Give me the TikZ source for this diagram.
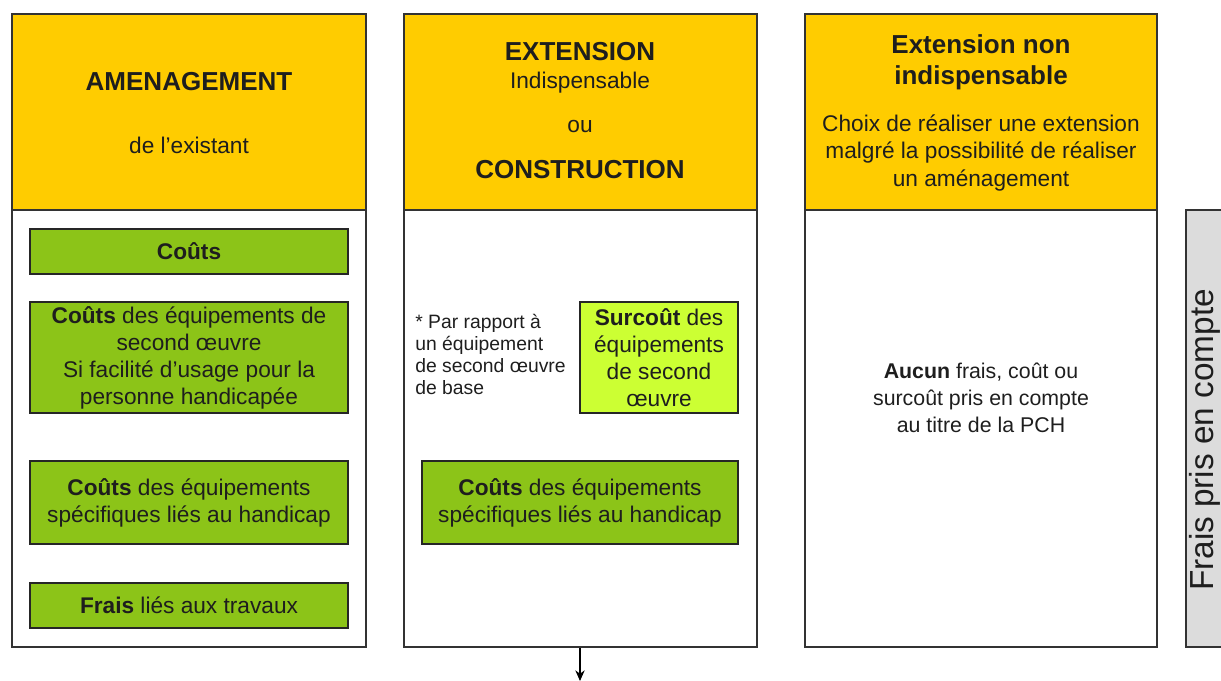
\documentclass[tikz,border=0pt]{standalone}
\usepackage{fontspec}
\setmainfont{Liberation Sans}
\usetikzlibrary{fit,arrows.meta}
\definecolor{hdr}{HTML}{FFCC00}
\definecolor{grn}{HTML}{8CC418}
\definecolor{lgrn}{HTML}{CCFF33}
\definecolor{txt}{HTML}{1E1E1E}
\definecolor{gry}{HTML}{DCDCDC}
\begin{document}
\begin{tikzpicture}[x=0.75pt,y=-0.75pt,
  colbox/.style={draw=black!80, line width=0.8pt, inner sep=0pt},
  hdrbox/.style={draw=black!80, line width=0.8pt, fill=hdr, inner sep=0pt},
  gbox/.style={draw=black!85, line width=0.8pt, fill=grn, inner sep=0pt},
  lgbox/.style={gbox, fill=lgrn},
  btext/.style={text=txt, font=\fontsize{17}{20.25}\selectfont, align=center, inner sep=0pt},
  htitle/.style={text=txt, font=\fontsize{19.5}{23.5}\selectfont\bfseries, align=center},
  hsub/.style={text=txt, font=\fontsize{17}{20.5}\selectfont, align=center}
]
\useasboundingbox (0,0) rectangle (1221,681);
\clip (0,0) rectangle (1221,681);

% columns
\node[colbox, fit={(12,14) (366,647)}] (c1) {};
\node[colbox, fit={(404,14) (757,647)}] (c2) {};
\node[colbox, fit={(805,14) (1157,647)}] (c3) {};
\node[hdrbox, fit={(12,14) (366,210)}] (h1) {};
\node[hdrbox, fit={(404,14) (757,210)}] (h2) {};
\node[hdrbox, fit={(805,14) (1157,210)}] (h3) {};

% header texts
\node[htitle] (t1a) at (189,82) {AMENAGEMENT};
\node[hsub] (t1b) at (189,145) {de l’existant};
\node[htitle] (t2a) at (580,52) {EXTENSION};
\node[hsub] (t2b) at (580,83) {Indispensable};
\node[hsub] (t2c) at (580,127) {ou};
\node[htitle] (t2d) at (580,170) {CONSTRUCTION};
\node[htitle] (t3a) at (981,62) {Extension non\\indispensable};
\node[hsub] (t3b) at (981,153) {Choix de réaliser une extension\\malgré la possibilité de réaliser\\un aménagement};

% column 1 boxes
\node[gbox, fit={(30,229) (348,274)}] (g1) {};
\node[btext] at (g1.center) {\textbf{Coûts}};
\node[gbox, fit={(30,302) (348,413)}] (g2) {};
\node[btext] at (g2.center) {\textbf{Coûts} des équipements de\\second œuvre\\Si facilité d’usage pour la\\personne handicapée};
\node[gbox, fit={(30,461) (348,544)}] (g3) {};
\node[btext] at (g3.center) {\textbf{Coûts} des équipements\\spécifiques liés au handicap};
\node[gbox, fit={(30,583) (348,628)}] (g4) {};
\node[btext] at (g4.center) {\textbf{Frais} liés aux travaux};

% column 2 boxes
\node[text=txt, font=\fontsize{14.5}{16.5}\selectfont, align=left, anchor=north west, inner sep=0pt] (note) at (415,314) {* Par rapport à\\un équipement\\de second œuvre\\de base};
\node[lgbox, fit={(580,302) (738,413)}] (g5) {};
\node[btext] at (g5.center) {\textbf{Surcoût} des\\équipements\\de second\\œuvre};
\node[gbox, fit={(422,461) (738,544)}] (g6) {};
\node[btext] at (g6.center) {\textbf{Coûts} des équipements\\spécifiques liés au handicap};

% column 3 text
\node[btext, font=\fontsize{16}{20.25}\selectfont] (t3c) at (981,398) {\textbf{Aucun} frais, coût ou\\surcoût pris en compte\\au titre de la PCH};

% gray box
\node[draw=black!80, line width=0.8pt, fill=gry, inner sep=0pt, fit={(1186,210) (1240,647)}] (gb) {};
\node[rotate=90, text=txt, font=\fontsize{25}{29}\selectfont, inner sep=0pt] (gt) at (1205,440) {Frais pris en compte};

% arrow
\coordinate (arr) at (580,681);
\draw[line width=0.8pt, -{Stealth[length=8pt,width=7pt]}] (c2.south -| arr) -- (arr);
\end{tikzpicture}
\end{document}
